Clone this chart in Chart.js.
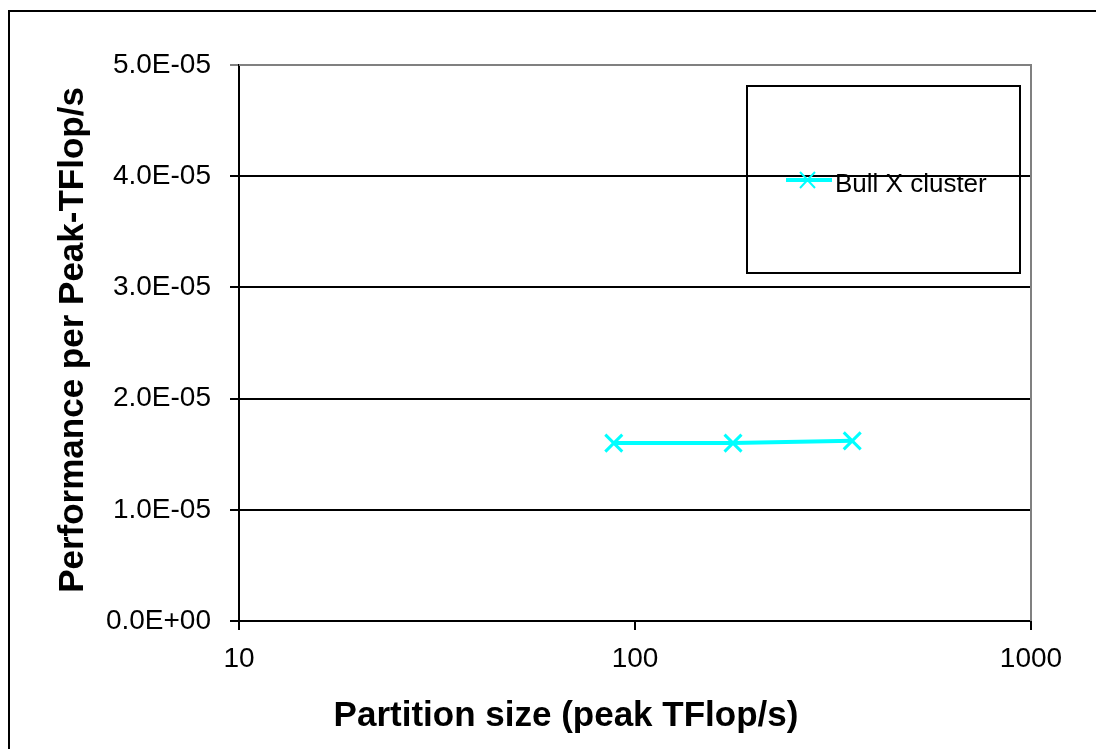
<!DOCTYPE html>
<html>
<head>
<meta charset="utf-8">
<script src="https://cdn.jsdelivr.net/npm/chart.js@4/dist/chart.umd.min.js"></script>
<style>
	html, body { margin: 0; padding: 0; background: #fff; overflow: hidden; }
	#wrap { position: relative; width: 1096px; height: 749px; }
	#frame { position: absolute; left: 8px; top: 10px; width: 1200px; height: 900px; border-left: 2px solid #000; border-top: 2px solid #000; }
	canvas { position: absolute; left: 0; top: 0; }
</style>
</head>
<body>
<div id="wrap">
	<div id="frame"></div>
	<canvas id="perfChart" width="1096" height="749"></canvas>
</div>
<script>
// Data
const seriesLabel = 'Bull X cluster';
const partitionSizes = [88.4, 176.8, 353.6];
const perfPerPeak = [1.60e-5, 1.60e-5, 1.62e-5];
const xTicks = [10, 100, 1000];
const yTicks = [0, 1e-5, 2e-5, 3e-5, 4e-5, 5e-5];
const xTitle = 'Partition size (peak TFlop/s)';
const yTitle = 'Performance per Peak-TFlop/s';

const FONT = 'Arial, "Liberation Sans", sans-serif';
const CYAN = '#00FFFF';

// Excel style scientific label, e.g. 5.0E-05
const sciLabel = (v) => {
	let [m, e] = v.toExponential(1).split('e');
	let sign = e[0] == '-' ? '-' : '+';
	let digits = e.replace(/[+-]/, '').padStart(2, '0');
	return `${m}E${sign}${digits}`;
};

// Gray frame on the top/right edges of the plot area, axis titles and the boxed legend
const framePlugin = {
	id: 'frame',
	afterDraw(chart) {
		let ctx = chart.ctx;
		let a = chart.chartArea;

		ctx.save();
		ctx.strokeStyle = '#808080';
		ctx.lineWidth = 2;
		ctx.beginPath();
		ctx.moveTo(a.left, a.top);
		ctx.lineTo(a.right, a.top);
		ctx.lineTo(a.right, a.bottom);
		ctx.stroke();

		// axis titles (Excel puts them off-centre, so placed by hand)
		ctx.fillStyle = '#000';
		ctx.font = `bold 35px ${FONT}`;
		ctx.textAlign = 'center';
		ctx.textBaseline = 'alphabetic';
		ctx.fillText(xTitle, 566, 726);

		ctx.save();
		ctx.translate(83, 340);
		ctx.rotate(-Math.PI / 2);
		ctx.fillText(yTitle, 0, 0);
		ctx.restore();

		// legend box
		ctx.strokeStyle = '#000';
		ctx.lineWidth = 2;
		ctx.strokeRect(747, 86, 273, 187);

		let ds = chart.data.datasets[0];
		let ly = 180;
		ctx.strokeStyle = ds.borderColor;
		ctx.lineWidth = 4;
		ctx.beginPath();
		ctx.moveTo(786, ly);
		ctx.lineTo(832, ly);
		ctx.stroke();

		ctx.lineWidth = 2;
		ctx.beginPath();
		ctx.moveTo(800, ly - 8); ctx.lineTo(815, ly + 8);
		ctx.moveTo(815, ly - 8); ctx.lineTo(800, ly + 8);
		ctx.stroke();

		ctx.fillStyle = '#000';
		ctx.font = `26px ${FONT}`;
		ctx.textAlign = 'left';
		ctx.fillText(ds.label, 835, 192);
		ctx.restore();
	}
};

function drawChart() {
	let context = document.getElementById('perfChart');

	return new Chart(context, {
		type: 'line',
		data: {
			datasets: [{
				label: seriesLabel,
				data: partitionSizes.map((x, i) => ({ x: x, y: perfPerPeak[i] })),
				borderColor: CYAN,
				backgroundColor: CYAN,
				borderWidth: 4,
				pointStyle: 'crossRot',
				pointRadius: 12,
				pointBorderWidth: 3,
				pointBorderColor: CYAN,
				tension: 0,
			}]
		},
		options: {
			responsive: false,
			animation: false,
			events: [],
			layout: { padding: { top: 65, right: 65, left: 30, bottom: 0 } },
			plugins: { legend: { display: false }, tooltip: { enabled: false } },
			scales: {
				x: {
					type: 'logarithmic',
					min: 10,
					max: 1000,
					afterBuildTicks: (s) => { s.ticks = xTicks.map(v => ({ value: v, major: true })); },
					afterFit: (s) => { s.height = 128; },
					grid: { drawOnChartArea: false, color: '#000', lineWidth: 2, tickLength: 9 },
					border: { color: '#000', width: 2 },
					ticks: {
						color: '#000',
						font: { family: FONT, size: 28 },
						padding: 12,
						maxRotation: 0,
						autoSkip: false,
						callback: (v) => String(v),
					},
				},
				y: {
					min: 0,
					max: 5e-5,
					afterBuildTicks: (s) => { s.ticks = yTicks.map(v => ({ value: v })); },
					afterFit: (s) => { s.width = 209; },
					grid: {
						color: (c) => (c.tick && c.tick.value == 5e-5) ? '#808080' : '#000',
						lineWidth: 2,
						tickLength: 9,
					},
					border: { color: '#000', width: 2 },
					ticks: {
						color: '#000',
						font: { family: FONT, size: 28 },
						padding: 19,
						autoSkip: false,
						callback: (v) => sciLabel(v),
					},
				},
			},
		},
		plugins: [framePlugin],
	});
}

let chart = drawChart();
</script>
</body>
</html>
